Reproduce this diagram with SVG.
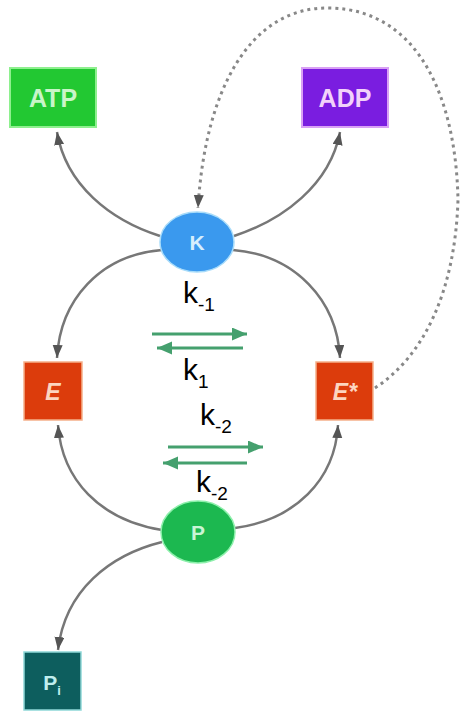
<svg xmlns="http://www.w3.org/2000/svg" width="463" height="713" viewBox="0 0 463 713">
<defs>
<marker id="ag" markerUnits="userSpaceOnUse" markerWidth="14" markerHeight="12" refX="13" refY="5" orient="auto"><path d="M0,0 L13,5 L0,10 Z" fill="#555"/></marker>
<marker id="gr" markerUnits="userSpaceOnUse" markerWidth="16" markerHeight="14" refX="15" refY="6.5" orient="auto"><path d="M0,0 L15,6.5 L0,13 Z" fill="#45a06e"/></marker>
</defs>
<style>
.c{fill:none;stroke:#777;stroke-width:2.5;marker-end:url(#ag)}
.d{fill:none;stroke:#888;stroke-width:3;stroke-dasharray:3 4;marker-end:url(#ag)}
.g{fill:none;stroke:#45a06e;stroke-width:3;marker-end:url(#gr)}
.n{font-family:"Liberation Sans",Arial,sans-serif;font-weight:bold;text-anchor:middle}
.k{font-family:"Liberation Sans",Arial,sans-serif;font-size:30px;fill:#000}
.s{font-size:19px}
</style>
<g id="connectors">
<path class="c" d="M160,236 C110,220 66,185 57,132"/>
<path class="c" d="M234,236 C283,220 330,185 340,132"/>
<path class="c" d="M162,250 C100,255 60,300 57,358"/>
<path class="c" d="M233,250 C295,255 337,300 340,358"/>
<path class="c" d="M162,530 C100,520 62,480 58,425"/>
<path class="c" d="M235,528 C295,520 335,480 338,425"/>
<path class="c" d="M162,542 C110,555 65,590 58,650"/>
<path class="d" d="M375,388 C425,355 455,290 458,200 C456,100 420,10 330,8 C250,6 205,90 198,208"/>
<path class="g" d="M152,334 L247,334"/>
<path class="g" d="M243,348 L157,348"/>
<path class="g" d="M168,447 L263,447"/>
<path class="g" d="M247,463 L163,463"/>
</g>
<g id="ATP"><rect x="10" y="68" width="86" height="59" fill="#22c832" stroke="#8ef08e" stroke-width="2"/><text class="n" x="53" y="107" font-size="25" fill="#c8f5c8">ATP</text></g>
<g id="ADP"><rect x="302" y="68" width="86" height="59" fill="#7a1de0" stroke="#d9a0f5" stroke-width="2"/><text class="n" x="345" y="107" font-size="25" fill="#f2d2fa">ADP</text></g>
<g id="K"><ellipse cx="197" cy="242" rx="37" ry="30" fill="#3a99ee" stroke="#a8dcfa" stroke-width="1.5"/><text class="n" x="197" y="250" font-size="21" fill="#d6eefc">K</text></g>
<g id="E"><rect x="24" y="362" width="58" height="58" fill="#dc3c0c" stroke="#f5b08a" stroke-width="1.5"/><text class="n" x="53" y="400" font-size="23" font-style="italic" fill="#fcd5c0">E</text></g>
<g id="Estar"><rect x="316" y="362" width="57" height="58" fill="#dc3c0c" stroke="#f5b08a" stroke-width="1.5"/><text class="n" x="345" y="400" font-size="23" font-style="italic" fill="#fcd5c0">E*</text></g>
<g id="P"><ellipse cx="198" cy="532" rx="37" ry="31" fill="#1cb850" stroke="#8ef0ac" stroke-width="1.5"/><text class="n" x="198" y="540" font-size="21" fill="#c9f5d5">P</text></g>
<g id="Pi"><rect x="24" y="652" width="57" height="58" fill="#0d5e5e" stroke="#8fd8d8" stroke-width="1.5"/><text class="n" x="52" y="690" font-size="21" fill="#bfeeee">P<tspan font-size="13" dy="5">i</tspan></text></g>
<g id="labels">
<text class="k" x="183" y="303">k<tspan class="s" dy="8">-1</tspan></text>
<text class="k" x="183" y="380">k<tspan class="s" dy="8">1</tspan></text>
<text class="k" x="200" y="425">k<tspan class="s" dy="8">-2</tspan></text>
<text class="k" x="196" y="492">k<tspan class="s" dy="8">-2</tspan></text>
</g>
</svg>
